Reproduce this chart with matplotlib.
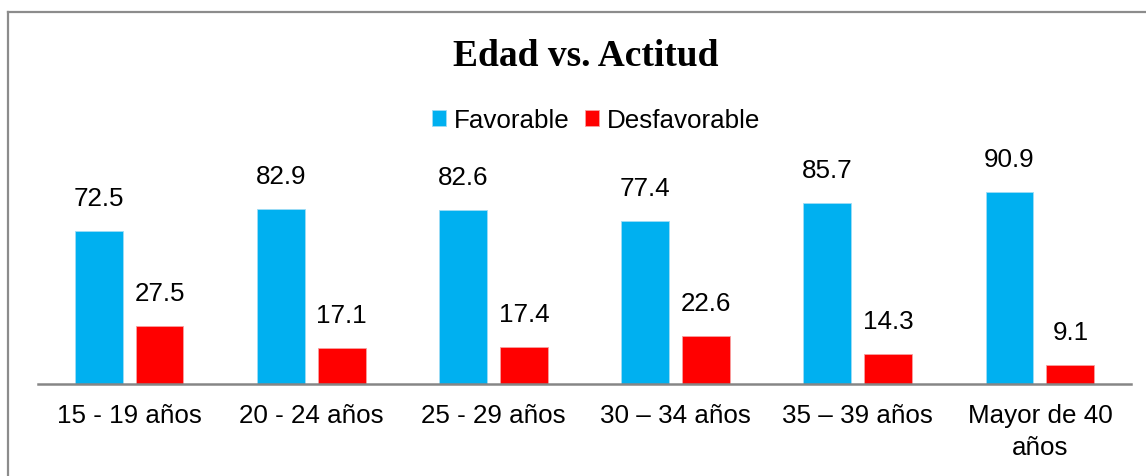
import matplotlib

matplotlib.use("Agg")
import matplotlib.pyplot as plt
import numpy as np
from matplotlib.lines import Line2D

categories = ["15 - 19 años", "20 - 24 años", "25 - 29 años", "30 \u2013 34 años",
              "35 \u2013 39 años", "Mayor de 40\naños"]
favorable = [72.5, 82.9, 82.6, 77.4, 85.7, 90.9]
desfavorable = [27.5, 17.1, 17.4, 22.6, 14.3, 9.1]

BLUE = "#00B0F0"
RED = "#FF0000"

plt.rcParams["font.family"] = ["Liberation Sans", "DejaVu Sans"]

W, H = 1146, 477
fig = plt.figure(figsize=(W / 100, H / 100), dpi=100)
ax = fig.add_axes([38 / W, 92 / H, (1131 - 38) / W, 211 / H])

x = np.arange(len(categories))
bw = 0.262
off = 0.167
b1 = ax.bar(x - off, favorable, bw, color=BLUE, edgecolor="#9fdcf5", linewidth=0.6,
            label="Favorable")
b2 = ax.bar(x + off, desfavorable, bw, color=RED, edgecolor="#f7a0a0", linewidth=0.6,
            label="Desfavorable")

for bars, vals in ((b1, favorable), (b2, desfavorable)):
    for rect, v in zip(bars, vals):
        ax.annotate(f"{v:.1f}", (rect.get_x() + rect.get_width() / 2, v),
                    xytext=(0, 15), textcoords="offset points",
                    ha="center", va="bottom", fontsize=18.7)

ax.set_xlim(-0.5, len(categories) - 0.5)
ax.set_ylim(0, 100)
ax.set_xticks(x)
ax.set_xticklabels(categories, fontsize=18.7, linespacing=1.42)
ax.tick_params(axis="x", length=0, pad=14)
ax.set_yticks([])
for s in ("top", "right", "left"):
    ax.spines[s].set_visible(False)
ax.spines["bottom"].set_color("#868686")
ax.spines["bottom"].set_linewidth(1.8)

fig.text(586 / W, 1 - 57 / H, "Edad vs. Actitud", ha="center", va="center",
         fontsize=27, fontweight="bold", family=["Liberation Serif", "DejaVu Serif"])

fig.legend(handles=[b1, b2], loc="center", bbox_to_anchor=(596 / W, 1 - 121 / H),
           ncol=2, frameon=False, fontsize=18.7, handlelength=0.55, handleheight=0.55,
           handletextpad=0.3, columnspacing=0.6, borderpad=0)

# outer chart frame (only top and left visible, cropped on the other sides)
frame_kw = dict(color="#8c8c8c", linewidth=1.6, transform=fig.transFigure)
fig.add_artist(Line2D([8 / W, 1.01], [1 - 13 / H, 1 - 13 / H], **frame_kw))
fig.add_artist(Line2D([8 / W, 8 / W], [1 - 13 / H, -0.01], **frame_kw))

fig.savefig("out.png", dpi=100)
